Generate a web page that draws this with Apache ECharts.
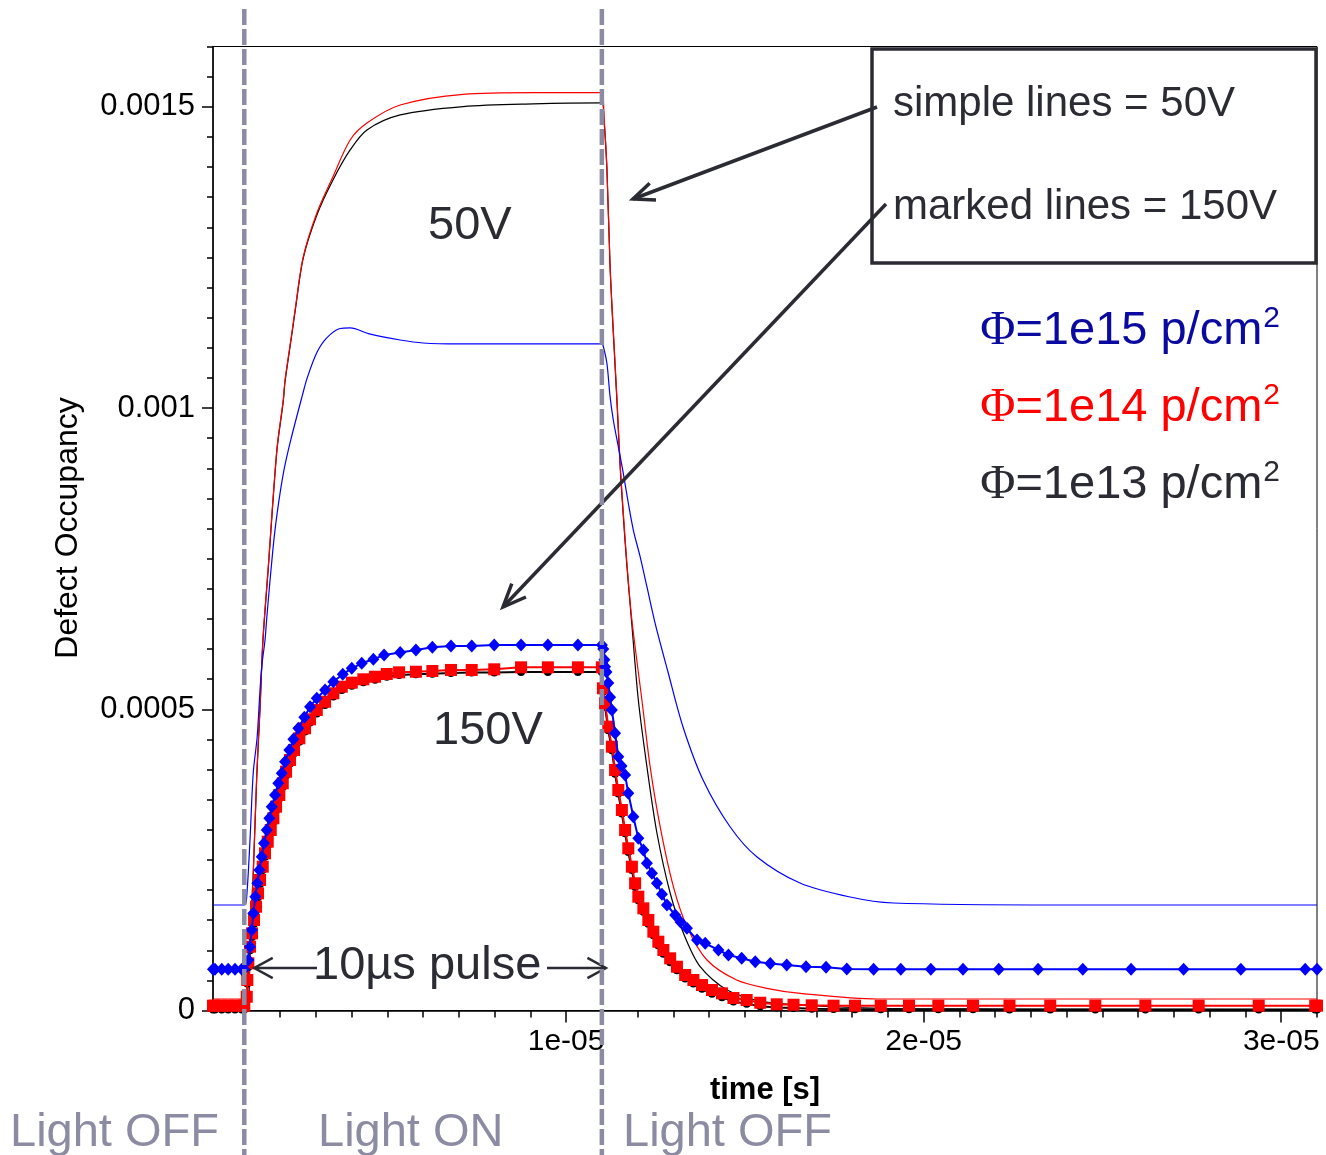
<!DOCTYPE html>
<html>
<head>
<meta charset="utf-8">
<script src="https://cdn.jsdelivr.net/npm/echarts/dist/echarts.min.js"></script>
<style>
  html, body { margin: 0; padding: 0; background: #fff; }
  #chart { width: 1326px; height: 1155px; }
</style>
</head>
<body>
<div id="chart"></div>
<script>
// time in µs, occupancy in units of 1e-4
const xMin = 0.125, xMax = 31.0
const xMajor = [10, 20, 30]
const xMinor = [1, 2, 3, 4, 5, 6, 7, 8, 9, 10, 11, 12, 13, 14, 15, 16, 17, 18, 19, 20, 21, 22, 23, 24, 25, 26, 27, 28, 29, 30, 31]
const yMajor = [0, 5, 10, 15]
const yMinor = [0.5, 1, 1.5, 2, 2.5, 3, 3.5, 4, 4.5, 5, 5.5, 6, 6.5, 7, 7.5, 8, 8.5, 9, 9.5, 10, 10.5, 11, 11.5, 12, 12.5, 13, 13.5, 14, 14.5, 15, 15.5, 16]

// 50V, simple lines
const tBlue50 = [0.125, 1.0, 1.06, 1.16, 1.25, 1.36, 1.44, 1.5, 1.58, 1.64, 1.8, 1.92, 2.1, 2.3, 2.62, 2.76, 3.03, 3.3, 3.68, 3.96, 4.5, 5.36, 6.0, 7.0, 11.0, 11.03, 11.14, 11.23, 11.32, 11.46, 11.6, 11.74, 11.88, 12.07, 12.26, 12.49, 12.85, 13.27, 13.83, 14.59, 15.34, 16.54, 17.94, 19.15, 23.8, 31.0]
const blue50 = [1.751, 1.751, 1.834, 2.83, 3.942, 4.54, 5.32, 5.768, 6.15, 6.598, 7.65, 8.258, 8.94, 9.47, 10.2, 10.5, 10.92, 11.16, 11.32, 11.329, 11.229, 11.129, 11.079, 11.063, 11.063, 11.046, 10.747, 10.188, 9.801, 9.358, 8.916, 8.419, 7.975, 7.532, 7.034, 6.427, 5.618, 4.706, 3.826, 3.046, 2.548, 2.116, 1.884, 1.784, 1.751, 1.751]

const tRed50 = [0.125, 1.0, 1.12, 1.16, 1.25, 1.35, 1.44, 1.52, 1.67, 1.91, 2.09, 2.14, 2.33, 2.42, 2.65, 3.03, 3.48, 3.96, 4.43, 5.36, 7.12, 9.08, 11.0, 11.06, 11.14, 11.23, 11.32, 11.42, 11.51, 11.6, 11.7, 11.84, 12.12, 12.35, 12.63, 13.0, 13.38, 13.94, 14.77, 15.61, 16.55, 18.7, 31.0]
const red50 = [0.191, 0.191, 0.257, 1.17, 2.282, 3.942, 5.037, 6.15, 7.361, 9.303, 10.133, 10.465, 11.245, 11.627, 12.511, 13.237, 13.839, 14.448, 14.73, 15.029, 15.207, 15.233, 15.233, 14.835, 14.005, 12.346, 11.295, 10.188, 9.087, 8.258, 7.428, 6.481, 5.153, 4.047, 3.051, 2.055, 1.391, 0.838, 0.506, 0.368, 0.285, 0.191, 0.191]

const tBlack50 = [0.125, 1.0, 1.12, 1.16, 1.25, 1.35, 1.44, 1.52, 1.67, 1.91, 2.09, 2.14, 2.33, 2.42, 2.65, 3.03, 3.48, 3.96, 4.43, 5.36, 7.12, 9.08, 11.0, 11.06, 11.14, 11.23, 11.32, 11.42, 11.51, 11.6, 11.7, 11.84, 12.02, 12.26, 12.54, 12.91, 13.28, 13.75, 14.5, 15.51, 16.55, 18.0, 20.0, 31.0]
const black50 = [0.017, 0.017, 0.08, 1.1, 2.25, 3.9, 5.0, 6.12, 7.33, 9.28, 10.11, 10.44, 11.22, 11.6, 12.49, 13.204, 13.785, 14.283, 14.615, 14.864, 15.002, 15.047, 15.063, 14.781, 13.988, 12.341, 11.245, 10.133, 9.038, 8.208, 7.378, 6.398, 5.153, 4.047, 2.946, 1.95, 1.286, 0.727, 0.34, 0.146, 0.091, 0.05, 0.025, 0.017]

// 150V, marked lines
const tBlue150 = [0.125, 0.18, 0.37, 0.55, 0.74, 0.93, 1.0,
  1.113, 1.161, 1.208, 1.253, 1.309, 1.365, 1.421, 1.488, 1.552, 1.628, 1.701, 1.768, 1.86, 1.952, 2.048, 2.14, 2.26, 2.372, 2.512, 2.68,
  2.839, 3.027, 3.259, 3.491, 3.754, 4.006, 4.285, 4.61, 4.909, 5.36, 5.8, 6.26, 6.78, 7.36, 7.99, 8.74, 9.49, 10.33, 11.0,
  11.04, 11.07, 11.09, 11.13, 11.18, 11.23, 11.28, 11.37, 11.46, 11.55, 11.65, 11.74, 11.88, 12.02, 12.16, 12.26, 12.4, 12.54, 12.68, 12.82,
  13.05, 13.2, 13.38, 13.66, 13.89, 14.26, 14.54, 14.91, 15.29, 15.71, 16.17, 16.71, 17.27, 17.85,
  18.6, 19.36, 20.2, 21.1, 22.1, 23.2, 24.45, 25.8, 27.27, 28.87, 30.67, 31.0]
const blue150 = [0.684, 0.684, 0.684, 0.684, 0.684, 0.684, 0.684,
  0.838, 1.059, 1.336, 1.613, 1.889, 2.111, 2.332, 2.553, 2.775, 2.996, 3.19, 3.383, 3.577, 3.771, 3.937, 4.13, 4.324, 4.501, 4.684, 4.867,
  5.042, 5.182, 5.32, 5.457, 5.58, 5.68, 5.763, 5.829, 5.901, 5.942, 5.984, 6.028, 6.05, 6.05, 6.067, 6.067, 6.067, 6.067, 6.067,
  6.0, 5.82, 5.706, 5.62, 5.436, 5.2, 4.988, 4.601, 4.213, 4.06, 3.909, 3.605, 3.217, 2.858, 2.664, 2.443, 2.28, 2.111, 1.93, 1.751,
  1.585, 1.47, 1.364, 1.17, 1.115, 1.004, 0.921, 0.866, 0.81, 0.78, 0.755, 0.727, 0.717, 0.689,
  0.684, 0.684, 0.684, 0.684, 0.684, 0.684, 0.684, 0.684, 0.684, 0.684, 0.684, 0.684]

const t150 = [0.125, 0.18, 0.37, 0.55, 0.74, 0.93, 1.0,
  1.069, 1.085, 1.113, 1.161, 1.217, 1.273, 1.329, 1.385, 1.441, 1.516, 1.58, 1.656, 1.74, 1.813, 1.888, 1.98, 2.076, 2.168, 2.28, 2.392,
  2.54, 2.699, 2.839, 3.027, 3.259, 3.491, 3.726, 4.006, 4.33, 4.657, 4.985, 5.33, 5.8, 6.26, 6.78, 7.36, 7.99, 8.74, 9.49, 10.33, 11.0,
  11.03, 11.09, 11.18, 11.28, 11.37, 11.46, 11.56, 11.65, 11.74, 11.84, 11.93, 12.02, 12.16, 12.3, 12.44, 12.58, 12.72, 12.91, 13.1, 13.33,
  13.56, 13.8, 14.08, 14.36, 14.68, 15.05, 15.43, 15.89, 16.36, 16.87, 17.48,
  18.08, 18.8, 19.59, 20.41, 21.38, 22.4, 23.54, 24.8, 26.2, 27.69, 29.37, 30.95, 31.0]
const red150 = [0.08, 0.08, 0.08, 0.08, 0.08, 0.08, 0.08,
  0.229, 0.506, 0.783, 1.059, 1.281, 1.502, 1.723, 1.945, 2.166, 2.387, 2.609, 2.802, 2.996, 3.19, 3.383, 3.577, 3.771, 3.964, 4.158, 4.324,
  4.518, 4.684, 4.833, 4.988, 5.125, 5.265, 5.374, 5.441, 5.497, 5.54, 5.585, 5.613, 5.623, 5.635, 5.652, 5.652, 5.663, 5.696, 5.696, 5.696, 5.696,
  5.348, 5.099, 4.711, 4.379, 3.992, 3.66, 3.328, 2.996, 2.692, 2.387, 2.111, 1.889, 1.696, 1.502, 1.308, 1.142, 1.004, 0.866, 0.727, 0.589,
  0.506, 0.423, 0.34, 0.285, 0.207, 0.174, 0.129, 0.103, 0.096, 0.086, 0.08,
  0.08, 0.08, 0.08, 0.08, 0.08, 0.08, 0.08, 0.08, 0.08, 0.08, 0.08, 0.08, 0.08]
const black150 = [0.017, 0.017, 0.017, 0.017, 0.017, 0.017, 0.017,
  0.17, 0.45, 0.72, 1.0, 1.22, 1.44, 1.66, 1.88, 2.1, 2.33, 2.55, 2.74, 2.94, 3.13, 3.32, 3.52, 3.71, 3.9, 4.1, 4.27,
  4.46, 4.63, 4.78, 4.93, 5.07, 5.21, 5.32, 5.39, 5.45, 5.49, 5.54, 5.57, 5.58, 5.59, 5.6, 5.61, 5.61, 5.62, 5.62, 5.62, 5.62,
  5.29, 5.04, 4.65, 4.32, 3.93, 3.6, 3.27, 2.94, 2.63, 2.33, 2.05, 1.83, 1.64, 1.44, 1.25, 1.08, 0.94, 0.8, 0.67, 0.53,
  0.45, 0.36, 0.28, 0.22, 0.15, 0.11, 0.07, 0.05, 0.04, 0.03, 0.025,
  0.02, 0.02, 0.02, 0.02, 0.02, 0.017, 0.017, 0.017, 0.017, 0.017, 0.017, 0.017, 0.017]

const ink = '#2b2b33'
const light = '#8b8ba3'
const font = 'Liberation Sans, Arial, sans-serif'

function zip(ts, vs) {
  return ts.map((t, i) => [t, vs[i]])
}

const chart = echarts.init(document.getElementById('chart'))

function simple(data, color) {
  return {
    type: 'line', data, symbol: 'none', z: 2, smooth: 0.3,
    lineStyle: {color, width: 1.2}
  }
}

function marked(data, color, symbol, size, z) {
  return {
    type: 'line', data, symbol, symbolSize: size, z,
    itemStyle: {color},
    lineStyle: {color, width: 2}
  }
}

const tickStyle = {color: '#000', width: 1.5}

const option = {
  backgroundColor: '#fff',
  animation: false,
  grid: {
    left: 213, right: 9, top: 46.5, bottom: 144.5,
    show: true, borderColor: '#000', borderWidth: 1
  },
  xAxis: [{
    type: 'value', min: xMin, max: xMax, position: 'bottom',
    axisLine: {lineStyle: tickStyle},
    axisTick: {customValues: xMajor, length: 12, lineStyle: tickStyle},
    axisLabel: {
      customValues: xMajor, fontSize: 30, color: '#000', fontFamily: font, margin: 16,
      formatter: v => (v / 10) + 'e-05'
    },
    splitLine: {show: false}
  }, {
    type: 'value', min: xMin, max: xMax, position: 'bottom',
    axisLine: {show: false},
    axisTick: {customValues: xMinor, length: 7, lineStyle: tickStyle},
    axisLabel: {show: false},
    splitLine: {show: false}
  }],
  yAxis: [{
    type: 'value', min: 0, max: 16, position: 'left',
    axisLine: {show: true, lineStyle: tickStyle},
    axisTick: {show: true, customValues: yMajor, length: 11, lineStyle: tickStyle},
    axisLabel: {
      customValues: yMajor, fontSize: 31, color: '#000', fontFamily: font, margin: 18,
      formatter: v => v === 0 ? '0' : String(+(v * 1e-4).toFixed(4))
    },
    splitLine: {show: false}
  }, {
    type: 'value', min: 0, max: 16, position: 'left',
    axisLine: {show: false},
    axisTick: {show: true, customValues: yMinor, length: 6, lineStyle: tickStyle},
    axisLabel: {show: false},
    splitLine: {show: false}
  }],
  series: [
    simple(zip(tBlack50, black50), '#000000'),
    simple(zip(tRed50, red50), '#ff0000'),
    simple(zip(tBlue50, blue50), '#0000ff'),
    marked(zip(t150, black150), '#000000', 'circle', 8, 3),
    marked(zip(t150, red150), '#ff0000', 'rect', 12, 4),
    marked(zip(tBlue150, blue150), '#0000ff', 'diamond', [12, 13], 5)
  ]
}

chart.setOption(option)

function arrow(x1, y1, x2, y2, len, spread, w) {
  const a = Math.atan2(y2 - y1, x2 - x1)
  return [{
    type: 'line', z: 50,
    shape: {x1, y1, x2, y2},
    style: {stroke: ink, lineWidth: w}
  }, {
    type: 'polyline', z: 50,
    shape: {points: [
      [x2 - len * Math.cos(a - spread), y2 - len * Math.sin(a - spread)],
      [x2, y2],
      [x2 - len * Math.cos(a + spread), y2 - len * Math.sin(a + spread)]
    ]},
    style: {stroke: ink, lineWidth: w, fill: null}
  }]
}

function label(text, x, y, size, color, align) {
  return {
    type: 'text', x, y, z: 50,
    style: {text, fontSize: size, fontFamily: font, fill: color, align: align || 'left', verticalAlign: 'middle'}
  }
}

function phi(value, x, y, color) {
  return {
    type: 'text', x, y, z: 50,
    style: {
      text: '{f|Φ}{t|=' + value + ' p/cm}{s|2}',
      align: 'right', verticalAlign: 'middle',
      rich: {
        f: {fontSize: 48, fontFamily: 'Liberation Serif, serif', fill: color, lineHeight: 54},
        t: {fontSize: 47, fontFamily: font, fill: color, lineHeight: 54},
        s: {fontSize: 30, fontFamily: font, fill: color, verticalAlign: 'top', lineHeight: 54, padding: [0, 0, 16, 1]}
      }
    }
  }
}

const xOn = chart.convertToPixel({xAxisIndex: 0}, 1.0)
const xOff = chart.convertToPixel({xAxisIndex: 0}, 11.0)
const yPulse = 968

const elements = [
  {type: 'line', z: 60, shape: {x1: xOn, y1: 9, x2: xOn, y2: 1155}, style: {stroke: light, lineWidth: 4.5, lineDash: [16, 4]}},
  {type: 'line', z: 60, shape: {x1: xOff, y1: 9, x2: xOff, y2: 1155}, style: {stroke: light, lineWidth: 4.5, lineDash: [16, 4]}},
  {type: 'rect', z: 40, shape: {x: 872, y: 49, width: 444, height: 214}, style: {fill: '#fff', stroke: ink, lineWidth: 3.5}},
  label('simple lines = 50V', 893, 104, 42, ink),
  label('marked lines = 150V', 893, 207, 42, ink),
  label('50V', 428, 226, 47, ink),
  label('150V', 433, 731, 47, ink),
  label('10µs pulse', 313, 966, 47, ink),
  label('Light OFF', 10, 1133, 47, light),
  label('Light ON', 318, 1133, 47, light),
  label('Light OFF', 623, 1133, 47, light),
  phi('1e15', 1280, 331, '#0a0aa0'),
  phi('1e14', 1280, 408, '#ff0000'),
  phi('1e13', 1280, 485, ink),
  {
    type: 'text', x: 68, y: 528, rotation: Math.PI / 2, z: 50,
    style: {text: 'Defect Occupancy', fontSize: 32, fontFamily: font, fill: '#000', align: 'center', verticalAlign: 'middle'}
  },
  {
    type: 'text', x: 765, y: 1090, z: 50,
    style: {text: 'time [s]', fontSize: 31, fontWeight: 'bold', fontFamily: font, fill: '#000', align: 'center', verticalAlign: 'middle'}
  }
]
  .concat(arrow(877, 107, 633, 199, 23, 0.4, 3.5))
  .concat(arrow(886, 204, 503, 607, 25, 0.4, 3.5))
  .concat(arrow(317, yPulse, xOn + 10, yPulse, 21, 0.5, 2.5))
  .concat(arrow(547, yPulse, xOff + 4, yPulse, 21, 0.5, 2.5))

chart.setOption({graphic: {elements}})
</script>
</body>
</html>
